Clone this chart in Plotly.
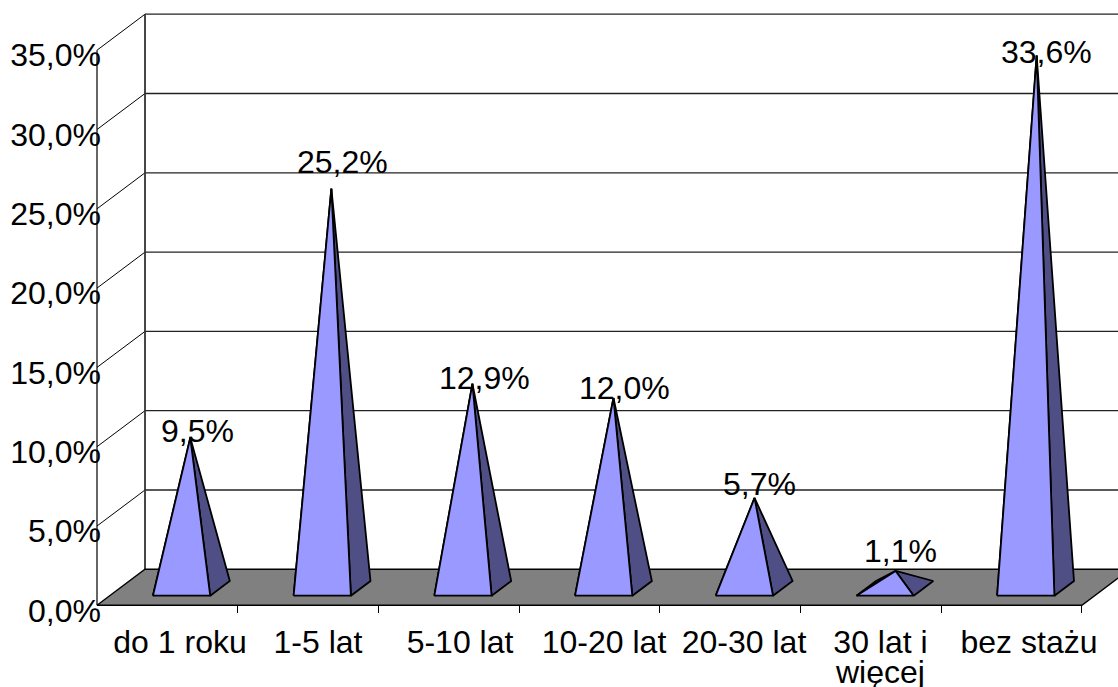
import plotly.graph_objects as go

# ---- data ----
categories = ["do 1 roku", "1-5 lat", "5-10 lat", "10-20 lat", "20-30 lat", "30 lat i", "bez stażu"]
second_line = {5: "więcej"}
values = [9.5, 25.2, 12.9, 12.0, 5.7, 1.1, 33.6]
value_labels = ["9,5%", "25,2%", "12,9%", "12,0%", "5,7%", "1,1%", "33,6%"]
y_ticks = [0, 5, 10, 15, 20, 25, 30, 35]
y_tick_labels = ["0,0%", "5,0%", "10,0%", "15,0%", "20,0%", "25,0%", "30,0%", "35,0%"]

# ---- layout constants (pixels) ----
W, H = 1118, 687
X0_PX, Y0_PX = 97.0, 605.3
CAT_PX, UNIT_PX = 140.7, 15.86
DEPTH_X_PX, DEPTH_Y_PX = 48.0, 36.0
DX, DY = DEPTH_X_PX / CAT_PX, DEPTH_Y_PX / UNIT_PX
FRONT, BACK = 0.267, 0.675
WIDTH = 0.407
BASE_NUDGE = 1.4 / CAT_PX
APEX_STEP = 141.06 / CAT_PX
FONT = dict(family="Liberation Sans, Arial, sans-serif", size=32, color="#000000")
LABEL_SHIFT = [12.65, 9.95, 11.25, 14.55, 13.85, 9.65, 17.45]
VALUE_SHIFT = [(7.5, 6.6), (11.5, 27), (12, 6), (11.5, 10), (4.5, 14), (4.5, 19.5), (10, 3)]

LIGHT, DARK, FLOOR = "#9999FF", "#4F4F85", "#808080"

n = len(categories)
fig = go.Figure()


def line(xs, ys, width=1.0, color="#000000"):
    fig.add_trace(go.Scatter(x=xs, y=ys, mode="lines", line=dict(color=color, width=width),
                             hoverinfo="skip", showlegend=False))


def poly(xs, ys, fill, width=1.8):
    fig.add_trace(go.Scatter(x=xs + xs[:1], y=ys + ys[:1], mode="lines", fill="toself",
                             fillcolor=fill, line=dict(color="#000000", width=width),
                             hoverinfo="skip", showlegend=False))


# walls: gridlines on back wall and diagonals on side wall
for t in y_ticks[1:]:
    line([DX, n + DX], [t + DY, t + DY], 1.3, "#222222")
    line([0, DX], [t, t + DY], 1.0)
line([0, 0], [0, y_ticks[-1]], 1.2)
line([DX, DX], [DY, y_ticks[-1] + DY], 1.8, "#333333")

# floor
poly([0, n, n + DX, DX], [0, 0, DY, DY], FLOOR, 1.4)

# pyramids
for i, v in enumerate(values):
    cy = (FRONT + BACK) / 2 * DY
    lx = i + 0.5 - WIDTH / 2 + FRONT * DX + BASE_NUDGE
    rx = i + 0.5 + WIDTH / 2 + FRONT * DX + BASE_NUDGE
    fy = FRONT * DY
    bdx = (BACK - FRONT) * DX
    by = BACK * DY
    apex_x = 93.3 / CAT_PX + i * APEX_STEP
    apex_y = cy + v
    poly([lx, lx + bdx, apex_x], [fy, by, apex_y], DARK)
    poly([rx, rx + bdx, apex_x], [fy, by, apex_y], DARK)
    poly([lx, rx, apex_x], [fy, fy, apex_y], LIGHT)
    fig.add_annotation(x=apex_x, y=apex_y, text=value_labels[i], showarrow=False,
                       xanchor="center", yanchor="middle", font=FONT,
                       xshift=VALUE_SHIFT[i][0], yshift=VALUE_SHIFT[i][1])

for i, txt in second_line.items():
    fig.add_annotation(x=i + 0.5 + LABEL_SHIFT[i] / CAT_PX, y=0, text=txt, showarrow=False,
                       xanchor="center", yanchor="middle", font=FONT, xshift=-1, yshift=-67)

fig.update_layout(
    width=W, height=H, margin=dict(l=0, r=0, t=0, b=0), autosize=False,
    paper_bgcolor="#FFFFFF", plot_bgcolor="#FFFFFF", showlegend=False,
    font=FONT,
    xaxis=dict(
        range=[-X0_PX / CAT_PX, (W - X0_PX) / CAT_PX], domain=[0, 1],
        anchor="free", position=(H - Y0_PX) / H,
        tickmode="array",
        tickvals=[i + 0.5 + LABEL_SHIFT[i] / CAT_PX for i in range(n)],
        ticktext=categories, ticks="", tickangle=0, tickfont=FONT,
        ticklabelstandoff=15, showgrid=False, zeroline=False, showline=False,
        minor=dict(tickmode="array", tickvals=list(range(1, n + 1)), ticks="outside",
                   ticklen=7, tickwidth=1, tickcolor="#000000", showgrid=False),
    ),
    yaxis=dict(
        range=[-(H - Y0_PX) / UNIT_PX, Y0_PX / UNIT_PX], domain=[0, 1],
        anchor="free", position=101 / W,
        tickmode="array", tickvals=y_ticks, ticktext=y_tick_labels, ticks="",
        tickfont=FONT, ticklabelshift=5, showgrid=False, zeroline=False, showline=False,
    ),
)

fig.write_html("out.html", config=dict(displayModeBar=False),
               post_script="document.body.style.margin='0';document.documentElement.style.overflow='hidden';window.dispatchEvent(new Event('resize'));")
